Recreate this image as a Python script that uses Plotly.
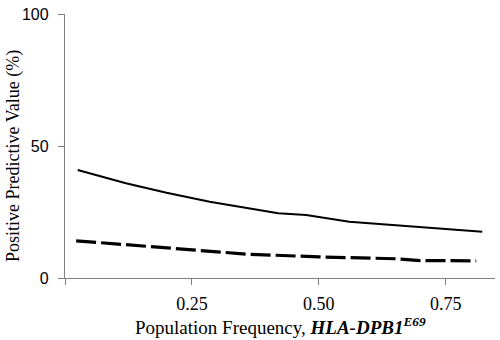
import plotly.graph_objects as go

freq_solid = [0.025, 0.12, 0.20, 0.285, 0.42, 0.475, 0.56, 0.70, 0.822]
ppv_solid = [40.9, 35.9, 32.3, 28.9, 24.5, 23.9, 21.3, 19.4, 17.5]

freq_dash = [0.022, 0.27, 0.36, 0.50, 0.555, 0.65, 0.70, 0.81]
ppv_dash = [14.1, 10.2, 9.0, 8.0, 7.7, 7.3, 6.6, 6.5]

x_ticks = [0, 0.25, 0.5, 0.75]
x_ticktext = ["", "0.25", "0.50", "0.75"]
y_ticks = [0, 50, 100]
y_ticktext = ["0", "50", "100"]

fig = go.Figure()
fig.add_trace(go.Scatter(x=freq_solid, y=ppv_solid, mode="lines",
                         line=dict(color="black", width=2), showlegend=False))
fig.add_trace(go.Scatter(x=freq_dash, y=ppv_dash, mode="lines",
                         line=dict(color="black", width=3.2, dash="20px,5px"),
                         showlegend=False))

fig.update_layout(
    width=500, height=340,
    margin=dict(l=65, r=5, t=14, b=62),
    paper_bgcolor="white", plot_bgcolor="white",
    xaxis=dict(range=[0, 0.847], tickvals=x_ticks, ticktext=x_ticktext,
               showgrid=False, zeroline=False, showline=True, linecolor="#808080",
               linewidth=1.3, ticks="outside", ticklen=6, tickcolor="#808080",
               ticklabelstandoff=3,
               tickfont=dict(family="Liberation Serif", size=18, color="black")),
    yaxis=dict(range=[0, 100], tickvals=y_ticks, ticktext=y_ticktext,
               showgrid=False, zeroline=False, showline=True, linecolor="#808080",
               linewidth=1.3, ticks="outside", ticklen=6, tickcolor="#808080",
               ticklabelstandoff=6,
               tickfont=dict(family="Liberation Sans", size=16, color="black")),
    annotations=[
        dict(text="Population Frequency, <b><i>HLA-DPB1</i></b><sup><b><i>E69</i></b></sup>",
             xref="paper", yref="paper", x=0.5, y=-0.18, xanchor="center", yanchor="middle",
             showarrow=False, font=dict(family="Liberation Serif", size=19, color="black")),
        dict(text="Positive Predictive Value (%)", textangle=-90,
             xref="paper", yref="paper", x=-0.121, y=0.462, xanchor="center", yanchor="middle",
             showarrow=False, font=dict(family="Liberation Serif", size=18, color="black")),
    ],
)

fig.write_html("out.html")
